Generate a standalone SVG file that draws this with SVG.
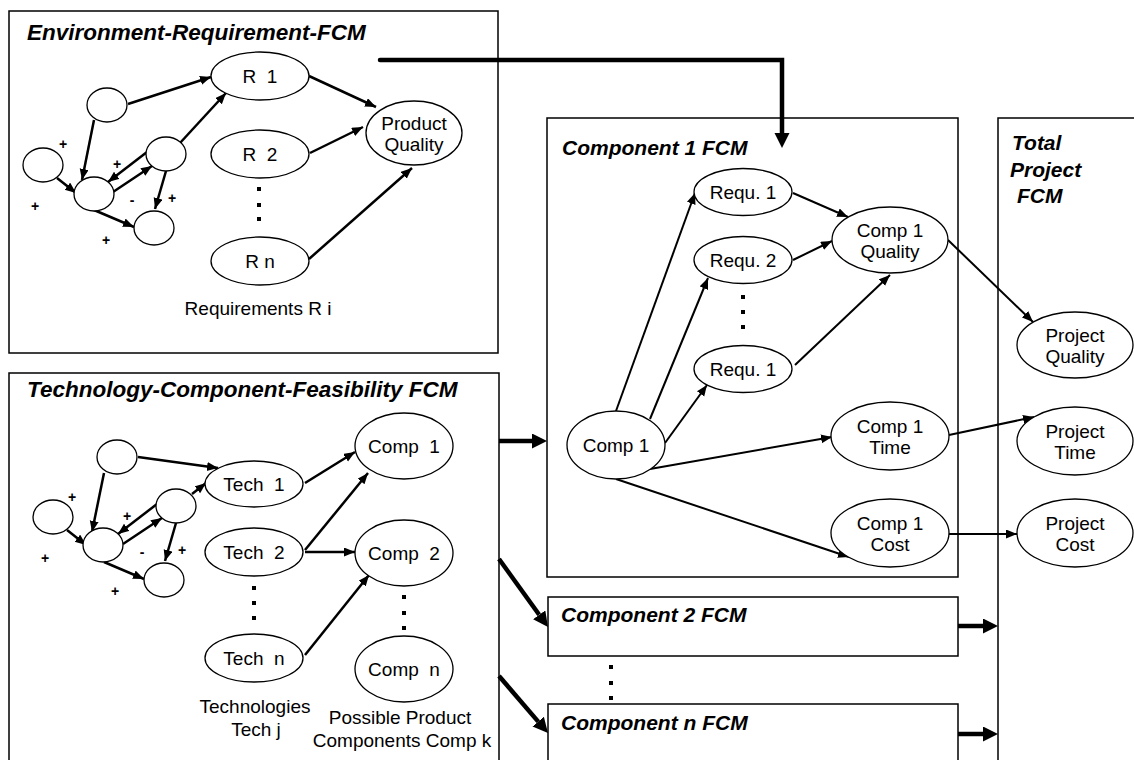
<svg xmlns="http://www.w3.org/2000/svg" width="1134" height="760" viewBox="0 0 1134 760">
<style>
.box{fill:none;stroke:#000;stroke-width:1.5}
.nd{fill:#fff;stroke:#000;stroke-width:1.3}
.t{font-family:"Liberation Sans",Arial,sans-serif;font-size:19px;fill:#000;text-anchor:middle}
.ttl{font-family:"Liberation Sans",Arial,sans-serif;font-size:21px;font-weight:bold;font-style:italic;fill:#000}
.ttlL{font-size:22.5px}
.pm{font-family:"Liberation Sans",Arial,sans-serif;font-size:14px;font-weight:bold;fill:#000;text-anchor:middle}
.a{fill:none;stroke:#000;stroke-width:2.5;marker-end:url(#ah)}
.a2{fill:none;stroke:#000;stroke-width:2;marker-end:url(#ah)}
.b{fill:none;stroke:#000;stroke-width:4.5;stroke-linejoin:miter;marker-end:url(#big)}
.dot{fill:#000}
</style>
<defs>
<marker id="ah" markerUnits="userSpaceOnUse" markerWidth="12" markerHeight="10" refX="11" refY="4.5" orient="auto"><path d="M0,0 L11,4.5 L0,9 z" fill="#000"/></marker>
<marker id="big" markerUnits="userSpaceOnUse" markerWidth="16" markerHeight="16" refX="0" refY="7.5" orient="auto"><path d="M0,0 L15,7.5 L0,15 z" fill="#000"/></marker>
</defs>
<rect width="1134" height="760" fill="#fff"/>

<!-- containers -->
<g id="env-box">
<rect class="box" x="9" y="11" width="489" height="342"/>
<text class="ttl ttlL" x="27" y="40">Environment-Requirement-FCM</text>
<text class="t" x="258" y="315">Requirements R i</text>
</g>
<g id="tech-box">
<rect class="box" x="9" y="373" width="490" height="400"/>
<text class="ttl ttlL" x="27" y="397">Technology-Component-Feasibility FCM</text>
<text class="t" x="255" y="713">Technologies</text>
<text class="t" x="256" y="736">Tech j</text>
<text class="t" x="400" y="724">Possible Product</text>
<text class="t" x="402" y="747">Components Comp k</text>
</g>
<g id="comp1-box">
<rect class="box" x="547" y="118" width="411" height="459"/>
<text class="ttl" x="562" y="155">Component 1 FCM</text>
</g>
<g id="comp2-box">
<rect class="box" x="548" y="597" width="410" height="59"/>
<text class="ttl" x="561" y="622">Component 2 FCM</text>
</g>
<g id="compn-box">
<rect class="box" x="548" y="704" width="410" height="70"/>
<text class="ttl" x="561" y="730">Component n FCM</text>
</g>
<g id="total-box">
<rect class="box" x="998" y="118" width="150" height="660"/>
<text class="ttl" x="1012" y="150">Total</text>
<text class="ttl" x="1010" y="177">Project</text>
<text class="ttl" x="1017" y="203">FCM</text>
</g>

<!-- connectors -->
<g id="connectors">
<!-- environment network -->
<line class="a" x1="128" y1="104" x2="211" y2="77"/>
<line class="a" x1="94" y1="120" x2="82" y2="180"/>
<line class="a" x1="57" y1="178" x2="76" y2="193"/>
<line class="a" x1="147" y1="152" x2="108" y2="182"/>
<line class="a" x1="113" y1="192" x2="152" y2="166"/>
<line class="a" x1="166" y1="171" x2="155" y2="209"/>
<line class="a" x1="94" y1="210" x2="134" y2="227"/>
<line class="a" x1="180" y1="143" x2="226" y2="93"/>
<line class="a" x1="309" y1="76" x2="376" y2="107"/>
<line class="a" x1="310" y1="153" x2="363" y2="127"/>
<line class="a" x1="309" y1="259" x2="412" y2="168"/>
<!-- technology network -->
<line class="a" x1="138" y1="457" x2="218" y2="468"/>
<line class="a" x1="104" y1="473" x2="92" y2="532"/>
<line class="a" x1="67" y1="530" x2="86" y2="545"/>
<line class="a" x1="157" y1="504" x2="118" y2="534"/>
<line class="a" x1="123" y1="544" x2="162" y2="518"/>
<line class="a" x1="176" y1="523" x2="165" y2="561"/>
<line class="a" x1="104" y1="562" x2="144" y2="579"/>
<line class="a" x1="192" y1="494" x2="206" y2="483"/>
<line class="a" x1="305" y1="483" x2="355" y2="452"/>
<line class="a" x1="305" y1="550" x2="368" y2="473"/>
<line class="a" x1="305" y1="552" x2="355" y2="552"/>
<line class="a" x1="305" y1="655" x2="369" y2="575"/>
<!-- component 1 network -->
<line class="a2" x1="616" y1="411" x2="695" y2="193"/>
<line class="a2" x1="650" y1="419" x2="708" y2="278"/>
<line class="a2" x1="665" y1="443" x2="707" y2="385"/>
<line class="a2" x1="793" y1="193" x2="848" y2="217"/>
<line class="a2" x1="793" y1="260" x2="832" y2="241"/>
<line class="a2" x1="795" y1="365" x2="890" y2="275"/>
<line class="a2" x1="948" y1="240" x2="1033" y2="322"/>
<line class="a2" x1="650" y1="469" x2="832" y2="437"/>
<line class="a2" x1="616" y1="479" x2="849" y2="557"/>
<line class="a2" x1="949" y1="435" x2="1034" y2="417"/>
<line class="a2" x1="949" y1="534" x2="1017" y2="534"/>
<!-- thick FCM links -->
<path class="b" d="M380,60 H782 V133" stroke-linecap="round"/>
<path class="b" d="M499,441 H532"/>
<path class="b" d="M499,559 L539.2,614.8"/>
<path class="b" d="M499,676 L538.2,721.6"/>
<path class="b" d="M958,626 H983"/>
<path class="b" d="M958,734 H983"/>
</g>

<!-- environment nodes -->
<g id="env-n1"><ellipse class="nd" cx="107" cy="105" rx="20" ry="17"/></g>
<g id="env-n2"><ellipse class="nd" cx="43" cy="165" rx="20" ry="17"/></g>
<g id="env-n3"><ellipse class="nd" cx="94" cy="194" rx="20" ry="17"/></g>
<g id="env-n4"><ellipse class="nd" cx="166" cy="154" rx="20" ry="17"/></g>
<g id="env-n5"><ellipse class="nd" cx="154" cy="228" rx="20" ry="17"/></g>
<g id="env-signs">
<text class="pm" x="63" y="149">+</text>
<text class="pm" x="35" y="211">+</text>
<text class="pm" x="117" y="169">+</text>
<text class="pm" x="132" y="205">-</text>
<text class="pm" x="172" y="203">+</text>
<text class="pm" x="106" y="245">+</text>
</g>
<g id="R1"><ellipse class="nd" cx="260" cy="76" rx="49" ry="24"/><text class="t" x="260" y="83" xml:space="preserve">R  1</text></g>
<g id="R2"><ellipse class="nd" cx="260" cy="154" rx="49" ry="24"/><text class="t" x="260" y="161" xml:space="preserve">R  2</text></g>
<g id="Rn"><ellipse class="nd" cx="260" cy="261" rx="49" ry="24"/><text class="t" x="260" y="268">R n</text></g>
<g id="R-dots"><rect class="dot" x="257" y="187" width="4" height="4"/><rect class="dot" x="257" y="203" width="4" height="4"/><rect class="dot" x="257" y="217" width="4" height="4"/></g>
<g id="product-quality"><ellipse class="nd" cx="414" cy="133" rx="48" ry="32"/><text class="t" x="414" y="130">Product</text><text class="t" x="414" y="151">Quality</text></g>

<!-- technology nodes -->
<g id="tech-n1"><ellipse class="nd" cx="117" cy="457" rx="20" ry="17"/></g>
<g id="tech-n2"><ellipse class="nd" cx="53" cy="517" rx="20" ry="17"/></g>
<g id="tech-n3"><ellipse class="nd" cx="103" cy="545" rx="20" ry="17"/></g>
<g id="tech-n4"><ellipse class="nd" cx="176" cy="506" rx="20" ry="17"/></g>
<g id="tech-n5"><ellipse class="nd" cx="164" cy="580" rx="20" ry="17"/></g>
<g id="tech-signs">
<text class="pm" x="72" y="502">+</text>
<text class="pm" x="45" y="563">+</text>
<text class="pm" x="127" y="521">+</text>
<text class="pm" x="142" y="557">-</text>
<text class="pm" x="182" y="555">+</text>
<text class="pm" x="115" y="596">+</text>
</g>
<g id="Tech1"><ellipse class="nd" cx="254" cy="484" rx="49" ry="23"/><text class="t" x="254" y="491" xml:space="preserve">Tech  1</text></g>
<g id="Tech2"><ellipse class="nd" cx="254" cy="552" rx="49" ry="24"/><text class="t" x="254" y="559" xml:space="preserve">Tech  2</text></g>
<g id="Techn"><ellipse class="nd" cx="254" cy="658" rx="49" ry="24"/><text class="t" x="254" y="665" xml:space="preserve">Tech  n</text></g>
<g id="Tech-dots"><rect class="dot" x="252" y="586" width="4" height="4"/><rect class="dot" x="252" y="601" width="4" height="4"/><rect class="dot" x="252" y="616" width="4" height="4"/></g>
<g id="Comp1-tech"><ellipse class="nd" cx="404" cy="446" rx="49" ry="33"/><text class="t" x="404" y="453" xml:space="preserve">Comp  1</text></g>
<g id="Comp2-tech"><ellipse class="nd" cx="404" cy="553" rx="49" ry="33"/><text class="t" x="404" y="560" xml:space="preserve">Comp  2</text></g>
<g id="Compn-tech"><ellipse class="nd" cx="404" cy="669" rx="49" ry="33"/><text class="t" x="404" y="676" xml:space="preserve">Comp  n</text></g>
<g id="Comp-dots"><rect class="dot" x="402" y="595" width="4" height="4"/><rect class="dot" x="402" y="611" width="4" height="4"/><rect class="dot" x="402" y="626" width="4" height="4"/></g>

<!-- component 1 nodes -->
<g id="Requ1"><ellipse class="nd" cx="743" cy="192" rx="49" ry="23.5"/><text class="t" x="743" y="199">Requ. 1</text></g>
<g id="Requ2"><ellipse class="nd" cx="743" cy="260" rx="49" ry="23.5"/><text class="t" x="743" y="267">Requ. 2</text></g>
<g id="Requ1b"><ellipse class="nd" cx="743" cy="369" rx="49" ry="23.5"/><text class="t" x="743" y="376">Requ. 1</text></g>
<g id="Requ-dots"><rect class="dot" x="741" y="295" width="4" height="4"/><rect class="dot" x="741" y="310" width="4" height="4"/><rect class="dot" x="741" y="325" width="4" height="4"/></g>
<g id="Comp1-quality"><ellipse class="nd" cx="890" cy="240" rx="58" ry="33"/><text class="t" x="890" y="237">Comp 1</text><text class="t" x="890" y="258">Quality</text></g>
<g id="Comp1"><ellipse class="nd" cx="616" cy="445" rx="49" ry="34"/><text class="t" x="616" y="452">Comp 1</text></g>
<g id="Comp1-time"><ellipse class="nd" cx="890" cy="436" rx="59" ry="34"/><text class="t" x="890" y="433">Comp 1</text><text class="t" x="890" y="454">Time</text></g>
<g id="Comp1-cost"><ellipse class="nd" cx="890" cy="533" rx="59" ry="34"/><text class="t" x="890" y="530">Comp 1</text><text class="t" x="890" y="551">Cost</text></g>
<g id="Comp-fcm-dots"><rect class="dot" x="609" y="665" width="4" height="4"/><rect class="dot" x="609" y="681" width="4" height="4"/><rect class="dot" x="609" y="696" width="4" height="4"/></g>

<!-- total project nodes -->
<g id="Project-quality"><ellipse class="nd" cx="1075" cy="345" rx="58" ry="33"/><text class="t" x="1075" y="342">Project</text><text class="t" x="1075" y="363">Quality</text></g>
<g id="Project-time"><ellipse class="nd" cx="1075" cy="441" rx="58" ry="34"/><text class="t" x="1075" y="438">Project</text><text class="t" x="1075" y="459">Time</text></g>
<g id="Project-cost"><ellipse class="nd" cx="1075" cy="533" rx="58" ry="34"/><text class="t" x="1075" y="530">Project</text><text class="t" x="1075" y="551">Cost</text></g>
</svg>
